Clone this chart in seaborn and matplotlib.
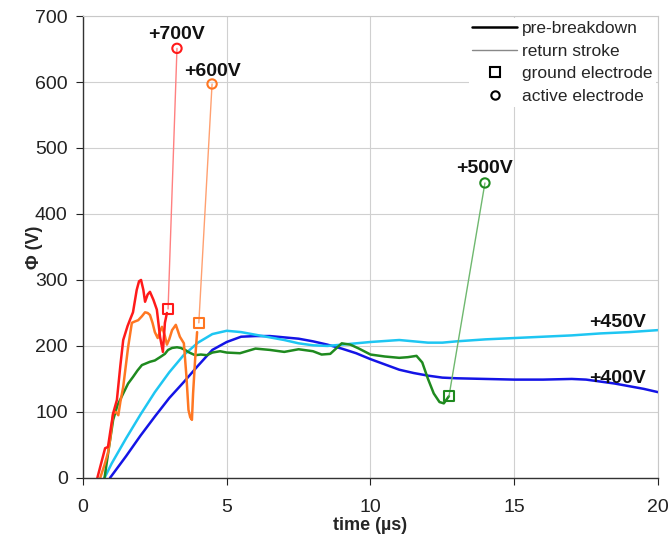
import matplotlib
matplotlib.use("Agg")
import matplotlib.pyplot as plt
from matplotlib.lines import Line2D
import seaborn as sns
import pandas as pd

# ---- data ----
red_t = [0.5, 0.65, 0.77, 0.87, 0.95, 1.05, 1.18, 1.3, 1.4, 1.55, 1.63, 1.74, 1.87, 1.95, 2.02, 2.1,
         2.16, 2.25, 2.33, 2.45, 2.57, 2.68, 2.78, 2.85, 2.92]
red_phi = [0, 25, 45, 47, 70, 98, 118, 170, 209, 230, 239, 251, 285, 298, 300, 285,
           267, 278, 282, 270, 255, 214, 191, 235, 250]
red_ground = (2.96, 256)
red_active = (3.27, 651)

orange_t = [0.6, 0.75, 0.87, 0.95, 1.05, 1.15, 1.23, 1.3, 1.4, 1.57, 1.7, 1.8, 1.92, 2.05, 2.16, 2.25,
            2.33, 2.42, 2.5, 2.6, 2.68, 2.75, 2.85, 2.92, 3.0, 3.1, 3.23, 3.37, 3.51, 3.6, 3.67, 3.73,
            3.79, 3.83, 3.9, 3.97]
orange_phi = [0, 20, 38, 60, 98, 100, 95, 115, 138, 198, 235, 237, 239, 245, 251, 250,
              247, 235, 221, 212, 222, 229, 215, 202, 210, 224, 232, 214, 204, 153, 103, 92,
              88, 128, 179, 221]
orange_ground = (4.03, 235)
orange_active = (4.49, 597)

green_t = [0.75, 0.9, 1.05, 1.2, 1.4, 1.57, 1.74, 1.9, 2.05, 2.33, 2.5, 2.68, 2.85, 2.96, 3.1, 3.27,
           3.4, 3.55, 3.7, 3.9, 4.1, 4.31, 4.5, 4.77, 5.0, 5.46, 6.0, 6.5, 7.0, 7.5, 8.0, 8.3, 8.6,
           9.0, 9.3, 9.6, 10.0, 10.5, 11.0, 11.3, 11.6, 11.8, 12.0, 12.2, 12.4, 12.55, 12.73]
green_phi = [0, 45, 88, 110, 128, 143, 153, 163, 171, 176, 178, 183, 188, 194, 197, 198,
             197, 194, 190, 186, 187, 186, 190, 192, 190, 189, 196, 194, 191, 195, 192, 187, 188,
             204, 202, 196, 187, 184, 182, 183, 185, 175, 150, 128, 115, 113, 124]
green_ground = (12.73, 124)
green_active = (13.98, 447)

lblue_t = [0.75, 1.0, 1.5, 2.0, 2.5, 3.0, 3.5, 4.0, 4.5, 5.0, 5.5, 6.0, 6.5, 7.0, 7.5, 8.0, 8.5, 9.0,
           9.5, 10.0, 11.0, 12.0, 12.5, 13.0, 14.0, 15.0, 16.0, 17.0, 18.0, 19.0, 20.0]
lblue_phi = [0, 22, 60, 96, 130, 160, 186, 205, 218, 223, 221, 217, 213, 209, 204, 201, 200, 202,
             204, 206, 209, 205, 205, 207, 210, 212, 214, 216, 219, 221, 224]

blue_t = [0.94, 1.5, 2.0, 2.5, 3.0, 3.5, 4.0, 4.5, 5.0, 5.5, 6.0, 6.5, 7.0, 7.5, 8.0, 8.5, 9.0, 9.5,
          10.0, 10.5, 11.0, 11.5, 12.0, 12.5, 13.0, 14.0, 15.0, 16.0, 17.0, 17.5, 18.0, 18.5, 19.0,
          19.5, 20.0]
blue_phi = [0, 33, 64, 93, 121, 145, 170, 194, 206, 214, 215, 215, 213, 211, 207, 202, 196, 189,
            180, 172, 164, 159, 155, 152, 151, 150, 149, 149, 150, 149, 146, 143, 139, 135, 130]

labels = ["+700V", "+600V", "+500V", "+450V", "+400V"]
label_pos = [(3.25, 659), (4.5, 603), (13.95, 456), (18.6, 222), (18.6, 138)]

# ---- plot ----
sns.set_theme(style="whitegrid")
plt.rcParams['font.family'] = ['Liberation Sans', 'DejaVu Sans']

fig = plt.figure(figsize=(6.69, 5.34), dpi=100)
ax = fig.add_axes([0.124, 0.105, 0.8596, 0.865])

pre = [
    (blue_t, blue_phi, "#1414e6"),
    (lblue_t, lblue_phi, "#1ec6f2"),
    (green_t, green_phi, "#1f8a1f"),
    (orange_t, orange_phi, "#ff7722"),
    (red_t, red_phi, "#ff1a1a"),
]
for t, p, c in pre:
    sns.lineplot(x=t, y=p, color=c, linewidth=1.8, sort=False, estimator=None, ax=ax)

ret = [
    (red_ground, red_active, "#ff1a1a", "#ff8080"),
    (orange_ground, orange_active, "#ff7722", "#ffa070"),
    (green_ground, green_active, "#1f8a1f", "#6fb86f"),
]
for g, a, c, lc in ret:
    sns.lineplot(x=[g[0], a[0]], y=[g[1], a[1]], color=lc, linewidth=1.0, sort=False,
                 estimator=None, ax=ax)
    sns.scatterplot(x=[g[0]], y=[g[1]], marker="s", s=55, facecolor="none", edgecolor=c,
                    linewidth=1.5, ax=ax, zorder=5)
    sns.scatterplot(x=[a[0]], y=[a[1]], marker="o", s=45, facecolor="none", edgecolor=c,
                    linewidth=1.5, ax=ax, zorder=5)

for lab, (x, y) in zip(labels, label_pos):
    ax.text(x, y, lab, ha="center", va="bottom", fontsize=14, fontweight="bold", color="#111111")

ax.set_xlim(0, 20)
ax.set_ylim(0, 700)
ax.set_xticks([0, 5, 10, 15, 20])
ax.set_yticks(range(0, 701, 100))
ax.grid(True, color="#d0d0d0", linewidth=0.8)
ax.set_facecolor("white")
for s in ["top", "right"]:
    ax.spines[s].set_color("#c8c8c8")
    ax.spines[s].set_linewidth(0.8)
for s in ["left", "bottom"]:
    ax.spines[s].set_color("#333333")
    ax.spines[s].set_linewidth(1.0)
ax.tick_params(axis="both", which="major", labelsize=14, colors="#222222", length=5,
               direction="out", bottom=True, left=True, width=0.8)
ax.tick_params(axis="x", pad=10)
ax.tick_params(axis="y", pad=6)

ax.set_xlabel("time (µs)", fontsize=13, fontweight="bold")
ax.xaxis.set_label_coords(0.5, -0.085)
ax.set_ylabel("Φ (V)", fontsize=13, fontweight="bold")
ax.yaxis.set_label_coords(-0.07, 0.5)

handles = [
    Line2D([0], [0], color="black", linewidth=1.8),
    Line2D([0], [0], color="#888888", linewidth=1.0),
    Line2D([0], [0], color="none", marker="s", markerfacecolor="none", markeredgecolor="black",
           markersize=7, markeredgewidth=1.5),
    Line2D([0], [0], color="none", marker="o", markerfacecolor="none", markeredgecolor="black",
           markersize=6, markeredgewidth=1.5),
]
leg = ax.legend(handles, ["pre-breakdown", "return stroke", "ground electrode", "active electrode"],
                loc="upper right", fontsize=12.5, frameon=True, framealpha=1, facecolor="white",
                edgecolor="none", borderaxespad=0.1, handlelength=2.6, handletextpad=0.3,
                labelspacing=0.42, borderpad=0.2)

fig.savefig("out.png", dpi=100)
